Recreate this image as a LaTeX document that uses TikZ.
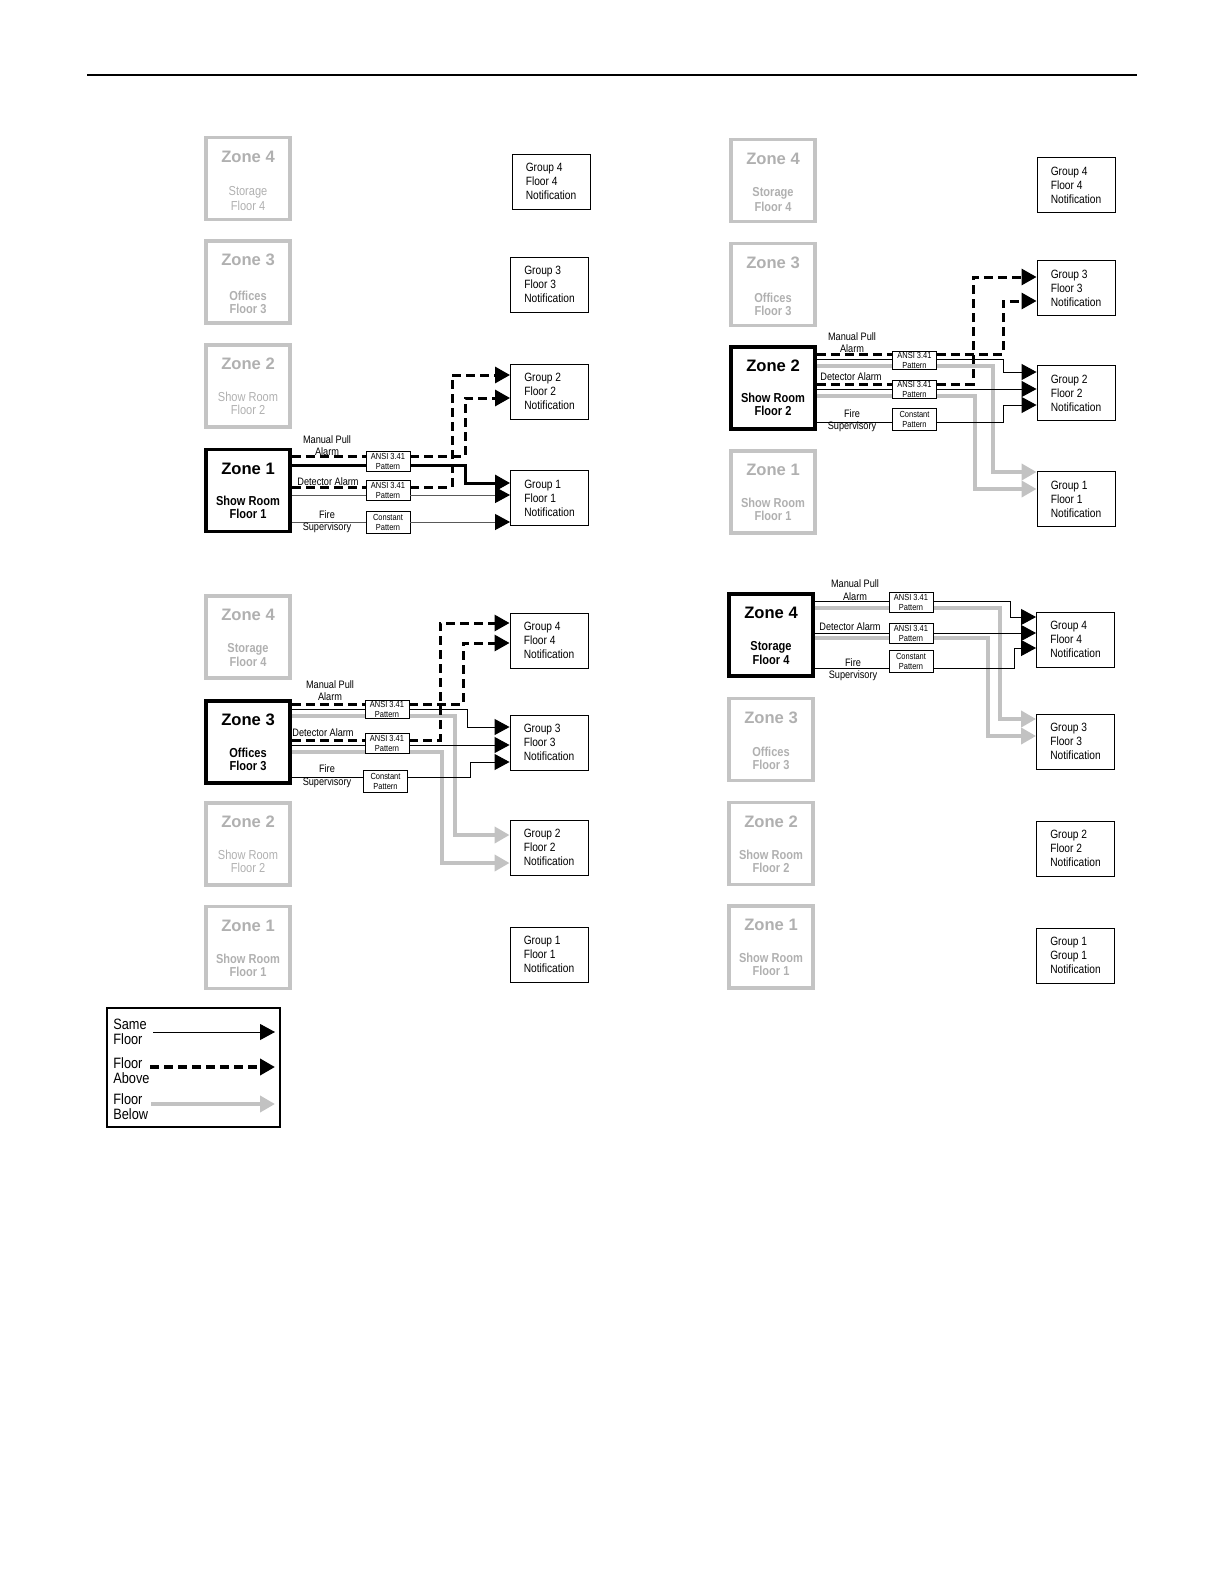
\documentclass[tikz,border=0pt]{standalone}
\usepackage{fontspec}
\setmainfont{Liberation Sans}
\newfontfamily\nf[FakeStretch=0.85]{Liberation Sans}
\usetikzlibrary{arrows.meta,calc}
\definecolor{zg}{HTML}{C4C4C4}
\definecolor{zt}{HTML}{B0B0B0}
\definecolor{gline}{HTML}{C2C2C2}
\tikzset{
  zoneon/.style={draw=black,line width=1.8pt,minimum width=42pt,minimum height=41pt,inner sep=0pt},
  zoneoff/.style={draw=zg,line width=1.6pt,minimum width=42pt,minimum height=41pt,inner sep=0pt},
  ztitleon/.style={font=\fontsize{8.3}{9}\selectfont\bfseries,text=black,inner sep=0pt},
  ztitleoff/.style={font=\fontsize{8.3}{9}\selectfont\bfseries,text=zt,inner sep=0pt},
  subon/.style={font=\nf\fontsize{6.5}{7}\selectfont\bfseries,text=black,inner sep=0pt},
  subb/.style={font=\nf\fontsize{6.5}{7}\selectfont\bfseries,text=zt,inner sep=0pt},
  subl/.style={font=\nf\fontsize{6.5}{7}\selectfont,text=zt,inner sep=0pt},
  grp/.style={draw,line width=0.45pt,minimum width=39pt,minimum height=27.5pt,inner sep=0pt,align=left,font=\nf\fontsize{6}{7}\selectfont},
  pat/.style={draw,line width=0.45pt,fill=white,minimum width=22pt,minimum height=10pt,inner sep=0pt,align=center,font=\nf\fontsize{4.4}{5}\selectfont},
  cpat/.style={pat,minimum height=11pt},
  lbl/.style={font=\nf\fontsize{5.4}{6.2}\selectfont,inner sep=0pt,align=center},
  lgt/.style={font=\nf\fontsize{7.5}{7.5}\selectfont,inner sep=0pt,align=left,anchor=west},
  tipend/.style={-{Triangle[length=7.5pt,width=8pt]}},
  sameplain/.style={draw=black,line width=0.5pt},
  same/.style={sameplain,tipend},
  samegplain/.style={draw=black!65,line width=0.5pt},
  sameg/.style={samegplain,-{Triangle[length=7.5pt,width=8pt,color=black]}},
  thkplain/.style={draw=black,line width=1.5pt},
  thk/.style={thkplain,tipend},
  abvplain/.style={draw=black,line width=1.5pt,dash pattern=on 4.5pt off 2.5pt},
  abv/.style={abvplain,tipend},
  blw/.style={draw=gline,line width=2.2pt,tipend},
}
% #1 name, #2 x, #3 y, #4 on/off, #5 title, #6 line1, #7 line2, #8 sub style, #9 line1 offset
\newcommand\zn[9]{%
  \node[zone#4] (#1) at (#2,#3) {};
  \node[ztitle#4] (#1t) at ($(#1.center)+(0,-22)$) {#5};
  \node[#8] (#1a) at ($(#1.center)+(0,#9)$) {#6};
  \node[#8] (#1b) at ($(#1.center)+(0,#9+13)$) {#7};
}
\newcommand\gp[5]{\node[grp] (#1) at (#2,#3) {#4\\#5\\Notification};}
\begin{document}
\begin{tikzpicture}[x=0.5pt,y=-0.5pt]
\useasboundingbox (0,0) rectangle (1224,1584);
% header rule
\coordinate (h1) at (87,75);
\coordinate (h2) at (1137,75);
\draw[line width=0.6pt] (h1) -- (h2);

% ================= Panel A : Zone 1 =================
\zn{az4}{248}{178.5}{off}{Zone 4}{Storage}{Floor 4}{subl}{14}
\zn{az3}{248}{282}{off}{Zone 3}{Offices}{Floor 3}{subb}{14}
\zn{az2}{248}{386}{off}{Zone 2}{Show Room}{Floor 2}{subl}{11}
\zn{az1}{248}{490.5}{on}{Zone 1}{Show Room}{Floor 1}{subon}{10}
\gp{ag4}{551}{181.5}{Group 4}{Floor 4}
\gp{ag3}{549.5}{284.5}{Group 3}{Floor 3}
\gp{ag2}{549.5}{391.5}{Group 2}{Floor 2}
\gp{ag1}{549.5}{498}{Group 1}{Floor 1}
\node[pat] (ap1) at (388,461.5) {ANSI 3.41\\Pattern};
\node[pat] (ap2) at (388,490) {ANSI 3.41\\Pattern};
\node[cpat] (ap3) at (388,522) {Constant\\Pattern};
\draw[abvplain] (az1.east |- 0,456) -- (ap1.west |- 0,456);
\draw[abv] (ap1.east |- 0,456) -- (465,456) |- (ag2.west |- 0,398);
\draw[thkplain] (az1.east |- 0,465) -- (ap1.west |- 0,465);
\draw[thk] (ap1.east |- 0,465) -- (465,465) |- (ag1.west |- 0,483);
\draw[abvplain] (az1.east |- 0,487) -- (ap2.west |- 0,487);
\draw[abv] (ap2.east |- 0,487) -- (452,487) |- (ag2.west |- 0,375);
\draw[samegplain] (az1.east |- 0,495) -- (ap2.west |- 0,495);
\draw[sameg] (ap2.east |- 0,495) -- (ag1.west |- 0,495);
\draw[samegplain] (az1.east |- 0,522) -- (ap3.west |- 0,522);
\draw[sameg] (ap3.east |- 0,522) -- (ag1.west |- 0,522);
\node[lbl] (al1) at (327,445.5) {Manual Pull\\Alarm};
\node[lbl] (al2) at (328,482) {Detector Alarm};
\node[lbl] (al3) at (327,521.5) {Fire\\Supervisory};

% ================= Panel B : Zone 2 =================
\zn{bz4}{773}{180.5}{off}{Zone 4}{Storage}{Floor 4}{subb}{13}
\zn{bz3}{773}{284.5}{off}{Zone 3}{Offices}{Floor 3}{subb}{13}
\zn{bz2}{773}{388}{on}{Zone 2}{Show Room}{Floor 2}{subon}{10}
\zn{bz1}{773}{492}{off}{Zone 1}{Show Room}{Floor 1}{subb}{11}
\gp{bg4}{1076}{185}{Group 4}{Floor 4}
\gp{bg3}{1076}{288}{Group 3}{Floor 3}
\gp{bg2}{1076}{393}{Group 2}{Floor 2}
\gp{bg1}{1076}{499}{Group 1}{Floor 1}
\draw[blw] (bz2.east |- 0,366) -- (993,366) |- (bg1.west |- 0,472);
\draw[blw] (bz2.east |- 0,396) -- (975,396) |- (bg1.west |- 0,489);
\node[pat,minimum height=9pt] (bp1) at (914.5,360) {ANSI 3.41\\Pattern};
\node[pat,minimum height=9pt] (bp2) at (914.5,389) {ANSI 3.41\\Pattern};
\node[cpat] (bp3) at (914.5,419.5) {Constant\\Pattern};
\draw[abvplain] (bz2.east |- 0,354) -- (bp1.west |- 0,354);
\draw[abv] (bp1.east |- 0,354) -- (1003,354) |- (bg3.west |- 0,301);
\draw[sameplain] (bz2.east |- 0,359) -- (bp1.west |- 0,359);
\draw[same] (bp1.east |- 0,359) -- (1003,359) |- (bg2.west |- 0,372);
\draw[abvplain] (bz2.east |- 0,384) -- (bp2.west |- 0,384);
\draw[abv] (bp2.east |- 0,384) -- (973,384) |- (bg3.west |- 0,277);
\draw[sameplain] (bz2.east |- 0,389) -- (bp2.west |- 0,389);
\draw[same] (bp2.east |- 0,389) -- (bg2.west |- 0,389);
\draw[sameplain] (bz2.east |- 0,422) -- (bp3.west |- 0,422);
\draw[same] (bp3.east |- 0,422) -- (1003,422) |- (bg2.west |- 0,405);
\node[lbl] (bl1) at (852,342.5) {Manual Pull\\Alarm};
\node[lbl] (bl2) at (851,377) {Detector Alarm};
\node[lbl] (bl3) at (852,421) {Fire\\Supervisory};

% ================= Panel C : Zone 3 =================
\zn{cz4}{248}{637}{off}{Zone 4}{Storage}{Floor 4}{subb}{12}
\zn{cz3}{248}{742}{on}{Zone 3}{Offices}{Floor 3}{subon}{11}
\zn{cz2}{248}{844}{off}{Zone 2}{Show Room}{Floor 2}{subl}{11}
\zn{cz1}{248}{947.5}{off}{Zone 1}{Show Room}{Floor 1}{subb}{11}
\gp{cg4}{549}{640.5}{Group 4}{Floor 4}
\gp{cg3}{549}{742.5}{Group 3}{Floor 3}
\gp{cg2}{549}{847.5}{Group 2}{Floor 2}
\gp{cg1}{549}{954.5}{Group 1}{Floor 1}
\draw[blw] (cz3.east |- 0,716) -- (455,716) |- (cg2.west |- 0,835);
\draw[blw] (cz3.east |- 0,752) -- (442,752) |- (cg2.west |- 0,863);
\node[pat,minimum height=9pt] (cp1) at (387,709.5) {ANSI 3.41\\Pattern};
\node[pat] (cp2) at (387,743) {ANSI 3.41\\Pattern};
\node[cpat] (cp3) at (385.5,781) {Constant\\Pattern};
\draw[abvplain] (cz3.east |- 0,704) -- (cp1.west |- 0,704);
\draw[abv] (cp1.east |- 0,704) -- (463,704) |- (cg4.west |- 0,643);
\draw[sameplain] (cz3.east |- 0,709) -- (cp1.west |- 0,709);
\draw[same] (cp1.east |- 0,709) -- (467,709) |- (cg3.west |- 0,727);
\draw[abvplain] (cz3.east |- 0,740) -- (cp2.west |- 0,740);
\draw[abv] (cp2.east |- 0,740) -- (440,740) |- (cg4.west |- 0,623);
\draw[sameplain] (cz3.east |- 0,745) -- (cp2.west |- 0,745);
\draw[same] (cp2.east |- 0,745) -- (cg3.west |- 0,745);
\draw[sameplain] (cz3.east |- 0,777) -- (cp3.west |- 0,777);
\draw[same] (cp3.east |- 0,777) -- (470,777) |- (cg3.west |- 0,762);
\node[lbl] (cl1) at (330,690.5) {Manual Pull\\Alarm};
\node[lbl] (cl2) at (323,733) {Detector Alarm};
\node[lbl] (cl3) at (327,776) {Fire\\Supervisory};

% ================= Panel D : Zone 4 =================
\zn{dz4}{771}{635}{on}{Zone 4}{Storage}{Floor 4}{subon}{12}
\zn{dz3}{771}{739.5}{off}{Zone 3}{Offices}{Floor 3}{subb}{12}
\zn{dz2}{771}{843.5}{off}{Zone 2}{Show Room}{Floor 2}{subb}{11}
\zn{dz1}{771}{947}{off}{Zone 1}{Show Room}{Floor 1}{subb}{11}
\gp{dg4}{1075.5}{639.5}{Group 4}{Floor 4}
\gp{dg3}{1075.5}{741.5}{Group 3}{Floor 3}
\gp{dg2}{1075.5}{848.5}{Group 2}{Floor 2}
\gp{dg1}{1075.5}{955.5}{Group 1}{Group 1}
\draw[blw] (dz4.east |- 0,608) -- (1000,608) |- (dg3.west |- 0,719);
\draw[blw] (dz4.east |- 0,638) -- (988,638) |- (dg3.west |- 0,736);
\node[pat] (dp1) at (911,602) {ANSI 3.41\\Pattern};
\node[pat] (dp2) at (911,633) {ANSI 3.41\\Pattern};
\node[cpat] (dp3) at (911,661.5) {Constant\\Pattern};
\draw[sameplain] (dz4.east |- 0,601) -- (dp1.west |- 0,601);
\draw[same] (dp1.east |- 0,601) -- (1010,601) |- (dg4.west |- 0,617);
\draw[sameplain] (dz4.east |- 0,633) -- (dp2.west |- 0,633);
\draw[same] (dp2.east |- 0,633) -- (dg4.west |- 0,633);
\draw[sameplain] (dz4.east |- 0,668) -- (dp3.west |- 0,668);
\draw[same] (dp3.east |- 0,668) -- (1014,668) |- (dg4.west |- 0,648);
\node[lbl] (dl1) at (855,590) {Manual Pull\\Alarm};
\node[lbl] (dl2) at (850,627) {Detector Alarm};
\node[lbl] (dl3) at (853,670) {Fire\\Supervisory};

% ================= Legend =================
\node[draw,line width=0.6pt,minimum width=86.5pt,minimum height=59.5pt,inner sep=0pt] (lg) at (193.5,1067.5) {};
\node[lgt] (lt1) at (113,1032) {Same\\Floor};
\node[lgt] (lt2) at (113,1071) {Floor\\Above};
\node[lgt] (lt3) at (113,1107) {Floor\\Below};
\coordinate (ls1) at (153,1032); \coordinate (le1) at (275,1032);
\coordinate (ls2) at (150,1067); \coordinate (le2) at (275,1067);
\coordinate (ls3) at (151,1104); \coordinate (le3) at (275,1104);
\draw[same] (ls1) -- (le1);
\draw[abv,line width=2pt] (ls2) -- (le2);
\draw[blw] (ls3) -- (le3);
\end{tikzpicture}
\end{document}
